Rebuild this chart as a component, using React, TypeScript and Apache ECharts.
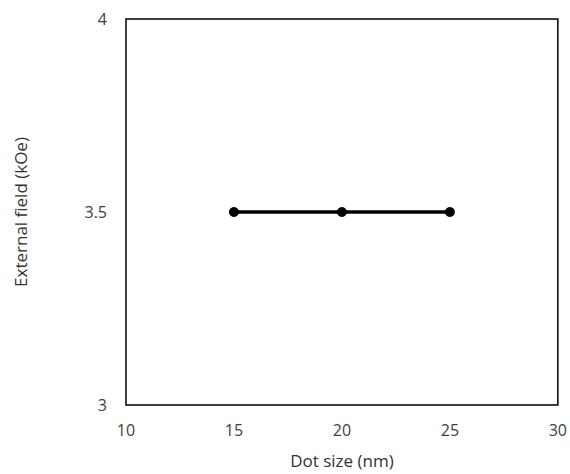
import React, { useEffect, useRef } from "react";
import * as echarts from "echarts";

const dotSizes = [15, 20, 25];
const externalField = [3.5, 3.5, 3.5];
const xTitle = "Dot size (nm)";
const yTitle = "External field (kOe)";

export default function App() {
  const ref = useRef<HTMLDivElement>(null);
  useEffect(() => {
    if (!ref.current) return;
    const chart = echarts.init(ref.current, null, { renderer: "svg" });
    const font = "'Open Sans', 'Liberation Sans', sans-serif";
    chart.setOption({
      animation: false,
      backgroundColor: "#ffffff",
      grid: {
        left: 126,
        right: 11,
        top: 19,
        bottom: 68,
        show: true,
        borderColor: "#000",
        borderWidth: 1.5,
      },
      xAxis: {
        type: "value",
        min: 10,
        max: 30,
        interval: 5,
        name: xTitle,
        nameLocation: "middle",
        nameGap: 47,
        nameTextStyle: { color: "#333", fontSize: 17, fontFamily: font },
        axisLine: { show: false },
        axisTick: { show: false },
        splitLine: { show: false },
        axisLabel: { color: "#404040", fontSize: 16, fontFamily: font, margin: 17 },
      },
      yAxis: {
        type: "value",
        min: 3,
        max: 4,
        interval: 0.5,
        name: yTitle,
        nameLocation: "middle",
        nameGap: 97,
        nameTextStyle: { color: "#333", fontSize: 17, fontFamily: font },
        axisLine: { show: false },
        axisTick: { show: false },
        splitLine: { show: false },
        axisLabel: { color: "#404040", fontSize: 16, fontFamily: font, margin: 19 },
      },
      series: [
        {
          type: "line",
          data: dotSizes.map((x, i) => [x, externalField[i]]),
          symbol: "circle",
          symbolSize: 10,
          lineStyle: { color: "#000", width: 3.5 },
          itemStyle: { color: "#000" },
        },
      ],
    });
    return () => chart.dispose();
  }, []);
  return (
    <div
      ref={ref}
      style={{ position: "fixed", left: 0, top: 0, width: 570, height: 474 }}
    />
  );
}
